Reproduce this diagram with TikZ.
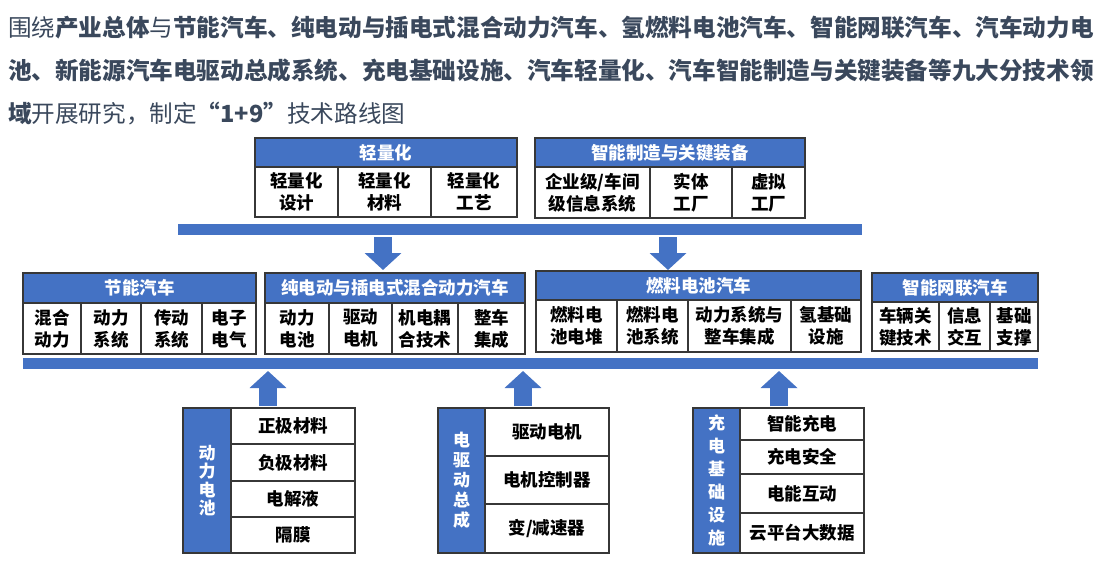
\documentclass[tikz,border=0pt]{standalone}
\usepackage{fontspec}
\setmainfont{Noto Sans CJK SC}
\usetikzlibrary{arrows.meta,calc}
\definecolor{myblue}{RGB}{68,114,196}
\definecolor{edgec}{RGB}{55,55,55}
\definecolor{titlec}{RGB}{58,72,92}
\begin{document}
\begin{tikzpicture}[x=1pt,y=-1pt,
  cellfont/.style={font=\bfseries\fontsize{17.5}{22}\selectfont},
  hdr/.style={draw=edgec, line width=1.2pt, fill=myblue, text=white, cellfont,
    inner sep=0pt, outer sep=0pt, anchor=north west},
  cell/.style={draw=edgec, line width=1.2pt, fill=white, text=black, cellfont,
    align=center, inner sep=0pt, outer sep=0pt, anchor=north west},
  side/.style={draw=edgec, line width=1.2pt, fill=myblue, text=white,
    align=center, inner sep=0pt, outer sep=0pt, anchor=north west},
  bar/.style={fill=myblue, inner sep=0pt, outer sep=0pt, anchor=north west},
  blk/.style={line width=18pt, draw=myblue, -{Triangle[width=36pt,length=17pt]}},
  ttl/.style={anchor=base west, inner sep=0pt, text=titlec,
    font=\fontsize{23.6}{28}\selectfont}]
\useasboundingbox (0,0) rectangle (1114,568);

% title
\node[ttl] (t1) at (8,36) {围绕\textbf{产业总体}与\textbf{节能汽车、纯电动与插电式混合动力汽车、氢燃料电池汽车、智能网联汽车、汽车动力电}};
\node[ttl] (t2) at (8,79) {\textbf{池、新能源汽车电驱动总成系统、充电基础设施、汽车轻量化、汽车智能制造与关键装备等九大分技术领}};
\node[ttl] (t3) at (8,122) {\textbf{域}开展研究，制定\textbf{“1+9”}技术路线图};

% top row: 轻量化
\node[hdr, minimum width=262, minimum height=29] (lwh) at (255,138) {轻量化};
\node[cell, minimum width=83, minimum height=50] (lw1) at (255,167) {轻量化\\设计};
\node[cell, minimum width=93, minimum height=50] (lw2) at (338,167) {轻量化\\材料};
\node[cell, minimum width=86, minimum height=50] (lw3) at (431,167) {轻量化\\工艺};
% 智能制造
\node[hdr, minimum width=270, minimum height=29] (imh) at (535,138) {智能制造与关键装备};
\node[cell, minimum width=115, minimum height=51] (im1) at (535,167) {企业级/车间\\级信息系统};
\node[cell, minimum width=82, minimum height=51] (im2) at (650,167) {实体\\工厂};
\node[cell, minimum width=73, minimum height=51] (im3) at (732,167) {虚拟\\工厂};

\node[bar, minimum width=684, minimum height=11] (topbar) at (178,224) {};

% middle row
\node[hdr, minimum width=233, minimum height=30] (esh) at (23,273) {节能汽车};
\node[cell, minimum width=58, minimum height=51] (es1) at (23,303) {混合\\动力};
\node[cell, minimum width=60, minimum height=51] (es2) at (81,303) {动力\\系统};
\node[cell, minimum width=61, minimum height=51] (es3) at (141,303) {传动\\系统};
\node[cell, minimum width=54, minimum height=51] (es4) at (202,303) {电子\\电气};

\node[hdr, minimum width=260, minimum height=30] (evh) at (265,273) {纯电动与插电式混合动力汽车};
\node[cell, minimum width=64, minimum height=51] (ev1) at (265,303) {动力\\电池};
\node[cell, minimum width=63, minimum height=51] (ev2) at (329,303) {驱动\\电机};
\node[cell, minimum width=66, minimum height=51] (ev3) at (392,303) {机电耦\\合技术};
\node[cell, minimum width=67, minimum height=51] (ev4) at (458,303) {整车\\集成};

\node[hdr, minimum width=325, minimum height=29] (fch) at (536,271) {燃料电池汽车};
\node[cell, minimum width=81, minimum height=52] (fc1) at (536,300) {燃料电\\池电堆};
\node[cell, minimum width=71, minimum height=52] (fc2) at (617,300) {燃料电\\池系统};
\node[cell, minimum width=103, minimum height=52] (fc3) at (688,300) {动力系统与\\整车集成};
\node[cell, minimum width=70, minimum height=52] (fc4) at (791,300) {氢基础\\设施};

\node[hdr, minimum width=166, minimum height=29] (ich) at (872,273) {智能网联汽车};
\node[cell, minimum width=67, minimum height=49] (ic1) at (872,302) {车辆关\\键技术};
\node[cell, minimum width=51, minimum height=49] (ic2) at (939,302) {信息\\交互};
\node[cell, minimum width=48, minimum height=49] (ic3) at (990,302) {基础\\支撑};

\node[bar, minimum width=1015, minimum height=11] (lowbar) at (23,358) {};

% bottom boxes
\node[side, minimum width=48, minimum height=145,
  font=\bfseries\fontsize{17}{18.5}\selectfont] (pb) at (183,408) {动\\力\\电\\池};
\node[cell, minimum width=124, minimum height=36] (pb1) at (231,408) {正极材料};
\node[cell, minimum width=124, minimum height=37] (pb2) at (231,444) {负极材料};
\node[cell, minimum width=124, minimum height=36] (pb3) at (231,481) {电解液};
\node[cell, minimum width=124, minimum height=36] (pb4) at (231,517) {隔膜};

\node[side, minimum width=47, minimum height=145,
  font=\bfseries\fontsize{17}{20}\selectfont] (ed) at (438,408) {电\\驱\\动\\总\\成};
\node[cell, minimum width=124, minimum height=48] (ed1) at (485,408) {驱动电机};
\node[cell, minimum width=124, minimum height=48] (ed2) at (485,456) {电机控制器};
\node[cell, minimum width=124, minimum height=49] (ed3) at (485,504) {变/减速器};

\node[side, minimum width=47, minimum height=145,
  font=\bfseries\fontsize{17}{23}\selectfont] (ch) at (693,408) {充\\电\\基\\础\\设\\施};
\node[cell, minimum width=124, minimum height=32] (ch1) at (740,408) {智能充电};
\node[cell, minimum width=124, minimum height=34] (ch2) at (740,440) {充电安全};
\node[cell, minimum width=124, minimum height=39] (ch3) at (740,474) {电能互动};
\node[cell, minimum width=124, minimum height=40] (ch4) at (740,513) {云平台大数据};

% arrows
\coordinate (xa) at (383,0);
\coordinate (xb) at (668,0);
\coordinate (xc) at (268,0);
\coordinate (xd) at (523,0);
\coordinate (xe) at (779,0);
\draw[blk] ($(topbar.south -| xa)+(0,2)$) -- ($(evh.north -| xa)+(0,-3)$);
\draw[blk] ($(topbar.south -| xb)+(0,2)$) -- ($(fch.north -| xb)+(0,-1)$);
\draw[blk] ($(pb.north -| xc)+(0,-2)$) -- ($(lowbar.south -| xc)+(0,2)$);
\draw[blk] ($(ed.north -| xd)+(0,-2)$) -- ($(lowbar.south -| xd)+(0,2)$);
\draw[blk] ($(ch.north -| xe)+(0,-2)$) -- ($(lowbar.south -| xe)+(0,2)$);
\end{tikzpicture}
\end{document}
